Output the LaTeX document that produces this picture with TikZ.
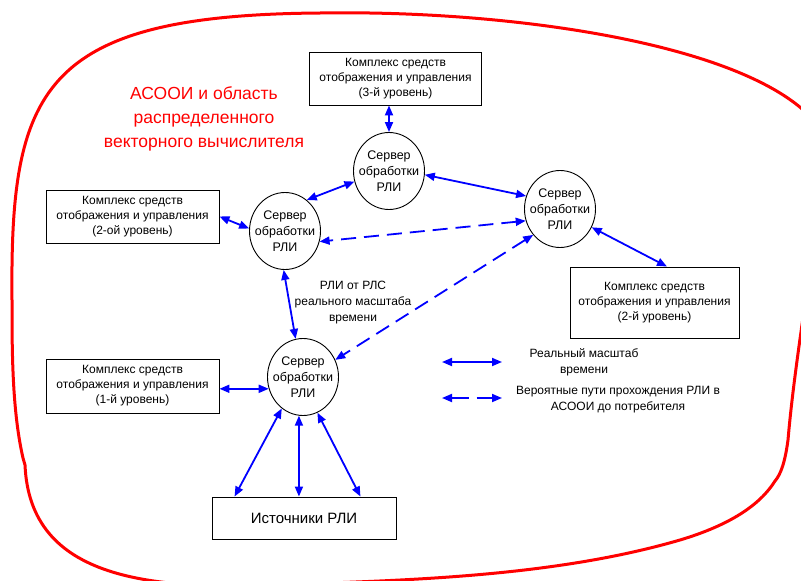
\documentclass[tikz,border=0pt]{standalone}
\usepackage{fontspec}
\setmainfont{Liberation Sans}
\usetikzlibrary{arrows.meta,shapes.geometric}

\begin{document}
\begin{tikzpicture}[x=1pt,y=-1pt,
 box/.style={draw=black, line width=0.9pt, rectangle, inner sep=0pt, align=center, font=\fontsize{12}{15}\selectfont},
 srv/.style={draw=black, line width=0.9pt, ellipse, minimum width=71pt, minimum height=77pt, inner xsep=-8pt, inner ysep=-4pt, align=center, font=\fontsize{12.5}{16}\selectfont},
 link/.style={blue, line width=1.8pt, {Triangle[length=10pt,width=8pt]}-{Triangle[length=10pt,width=8pt]}},
 dlink/.style={link, dash pattern=on 15pt off 8pt},
 lbl/.style={align=center, font=\fontsize{12}{16}\selectfont, inner sep=0pt}]

\useasboundingbox (0,0) rectangle (801,581);
\clip (0,0) rectangle (801,581);

% red outline
\draw[red, line width=3pt, line join=round]
 (12,300) .. controls (10,90) and (40,15) .. (320,13)
 .. controls (500,10) and (720,40) .. (801,108)
 .. controls (841,142) and (800,300) .. (788,440)
 .. controls (785,462) and (781,474) .. (775,481)
 .. controls (760,505) and (730,525) .. (680,540)
 .. controls (560,575) and (420,580) .. (300,584)
 .. controls (150,592) and (30,580) .. (25,465)
 -- (23,458)
 .. controls (12,410) and (12,350) .. (12,300) -- cycle;

% boxes
\node[box, minimum width=172pt, minimum height=53pt] (k3) at (395.5,78.5) {Комплекс средств\\отображения и управления\\(3-й уровень)};
\node[box, minimum width=173pt, minimum height=53pt] (k2L) at (132.5,216.5) {Комплекс средств\\отображения и управления\\(2-ой уровень)};
\node[box, minimum width=173pt, minimum height=54pt] (k1) at (132.5,386) {Комплекс средств\\отображения и управления\\(1-й уровень)};
\node[box, minimum width=169pt, minimum height=71pt] (k2R) at (654.5,302.5) {Комплекс средств\\отображения и управления\\(2-й уровень)};
\node[box, minimum width=184pt, minimum height=42pt, font=\fontsize{15}{18}\selectfont] (src) at (304,518) {Источники РЛИ};

% servers
\node[srv] (srvT) at (389,171) {Сервер\\обработки\\РЛИ};
\node[srv] (srvL) at (285,231) {Сервер\\обработки\\РЛИ};
\node[srv] (srvR) at (560,209) {Сервер\\обработки\\РЛИ};
\node[srv] (srvB) at (303,377) {Сервер\\обработки\\РЛИ};

% texts
\node[red, align=center, inner sep=0pt, font=\fontsize{17.5}{24}\selectfont] (title) at (204,119) {АСООИ и область\\распределенного\\векторного вычислителя};
\node[lbl] (mid) at (353,303) {РЛИ от РЛС\\реального масштаба\\времени};
\node[lbl] (lt1) at (584,362) {Реальный масштаб\\времени};
\node[lbl] (lt2) at (618,400) {Вероятные пути прохождения РЛИ в\\АСООИ до потребителя};

\coordinate (l1a) at (442,362);
\coordinate (l1b) at (502,362);
\coordinate (l2a) at (442,398);
\coordinate (l2b) at (502,398);

% connectors
\draw[link] (srvT.north |- k3.south) -- (srvT.north);
\draw[link] (srvT.197) -- (srvL.55);
\draw[link] (srvT.354) -- (srvR.159);
\draw[link] (k2L.east) -- (srvL.176);
\draw[dlink] (srvR.199) -- (srvL.343);
\draw[dlink] (srvR.224) -- (srvB.28);
\draw[link] (srvL.268) -- (srvB.101);
\draw[link] (srvB.199) -- (srvB.199 -| k1.east);
\draw[link] (srvB.236) -- ([xshift=23pt]src.north west);
\draw[link] (srvB.264) -- (srvB.264 |- src.north);
\draw[link] (srvB.292) -- ([xshift=-36pt]src.north east);
\draw[link] (srvR.330) -- ([xshift=12.5pt]k2R.north);
\draw[link] (l1a) -- (l1b);
\draw[link, dash pattern=on 17pt off 8pt] (l2a) -- (l2b);
\end{tikzpicture}
\end{document}
